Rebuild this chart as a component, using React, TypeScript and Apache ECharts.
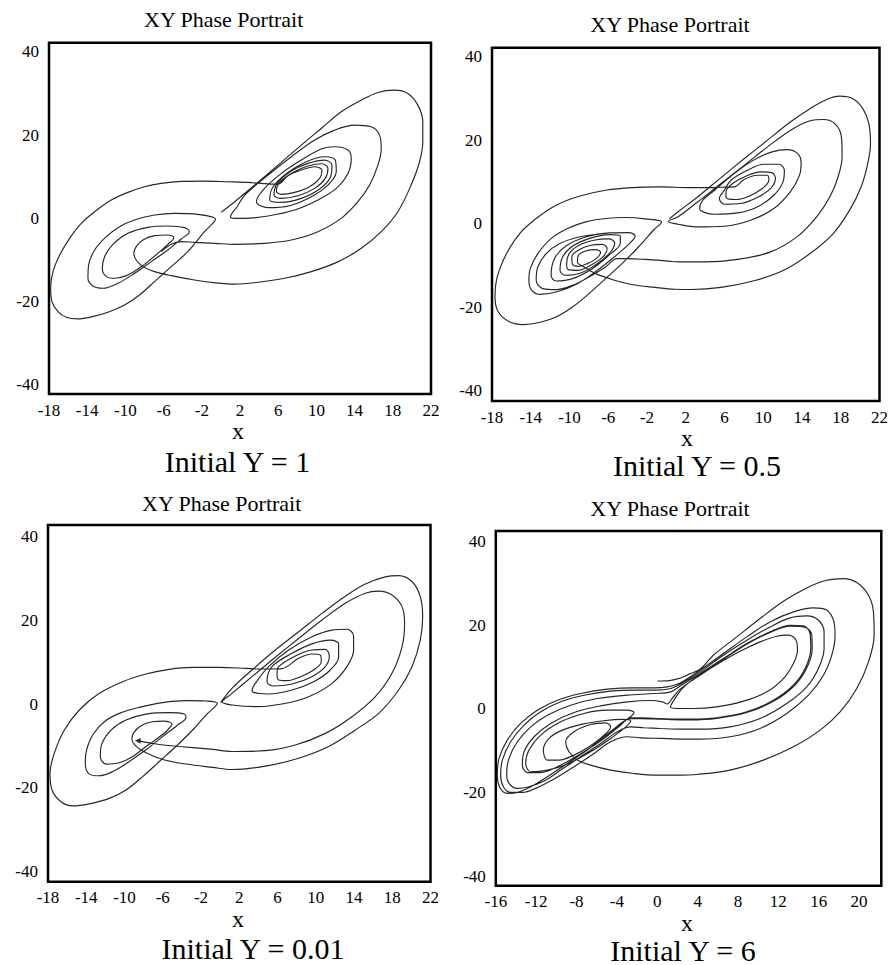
import React, { useEffect, useRef } from 'react';
import * as echarts from 'echarts';

// ---------- tick labels & texts ----------
const xTicksWide = [-18, -14, -10, -6, -2, 2, 6, 10, 14, 18, 22];
const xTicksShift = [-16, -12, -8, -4, 0, 4, 8, 12, 16, 20];
const yTicks = [-40, -20, 0, 20, 40];
const panelTitle = 'XY Phase Portrait';
const axisName = 'x';
const captions = ['Initial Y = 1', 'Initial Y = 0.5', 'Initial Y = 0.01', 'Initial Y = 6'];

// ---------- traced trajectories (x, y) ----------
const trajY1: number[][] = [
  [0.02,1.44],[1.45,4.0],[3.54,8.0],[5.98,12.8],[8.42,17.6],[10.51,21.6],[12.6,25.6],[14.7,28.4],[16.44,30.24],[18.18,30.8],[19.57,30.0],[20.62,27.2],[21.14,23.2],[21.14,18.4],[20.8,13.6],[19.92,8.0],[18.53,1.6],[16.79,-3.2],[14.7,-7.2],[12.3,-10.4],[9.47,-12.8],[6.68,-14.4],[3.89,-15.36],[1.45,-15.8],[-0.5,-15.5],[-2.77,-14.8],[-5.21,-13.76],[-6.95,-12.8],[-8.17,-11.6],[-8.87,-10.0],[-9.11,-8.4],[-8.87,-6.8],[-8.17,-5.2],[-6.95,-4.16],[-5.56,-4.0],[-4.93,-4.64],
  [-5.56,-6.24],[-6.6,-8.4],[-7.65,-10.4],[-8.69,-12.16],[-9.91,-13.76],[-11.13,-14.4],[-12.0,-14.0],[-12.42,-12.0],[-12.18,-9.2],[-11.31,-6.24],[-9.74,-3.6],[-7.65,-2.16],[-5.56,-1.84],[-3.81,-2.24],[-3.29,-3.2],[-4.16,-4.96],[-5.56,-7.6],[-7.3,-10.4],[-9.04,-13.2],[-10.79,-15.6],[-12.35,-16.8],[-13.4,-16.24],[-13.92,-14.4],[-13.85,-11.2],[-13.22,-7.6],[-12.0,-4.4],[-10.61,-2.0],[-9.04,-0.4],[-6.95,0.8],[-4.86,1.2],[-2.42,0.96],[-0.57,-0.24],
  [-1.72,-3.2],[-3.47,-8.0],[-5.21,-11.6],[-6.95,-15.2],[-8.52,-18.4],[-10.09,-20.8],[-11.83,-22.56],[-13.57,-23.68],[-14.97,-24.16],[-16.19,-23.76],[-17.06,-22.4],[-17.69,-20.0],[-17.83,-16.8],[-17.58,-12.8],[-16.88,-8.8],[-15.84,-4.8],[-14.62,-1.2],[-13.22,1.6],[-11.48,4.4],[-9.74,6.24],[-8.0,7.6],[-6.25,8.4],[-4.16,8.88],[-1.72,8.96],[0.72,8.8],[2.81,8.64],[4.2,8.4],[5.28,8.24],[5.98,8.24],
  [7.03,10.24],[8.42,11.6],[9.82,12.4],[10.58,11.6],[10.34,9.6],[9.29,7.6],[7.72,6.24],[6.33,5.76],[5.81,6.56],[6.16,8.64],[7.55,11.04],[9.12,12.56],[10.58,13.12],[11.21,12.0],[10.93,9.6],[9.82,7.2],[8.07,5.44],[6.33,4.8],[5.56,5.6],[5.91,8.4],[7.38,11.36],[9.12,13.2],[10.86,14.0],[11.63,12.8],[11.49,10.0],[10.34,7.04],[8.42,4.8],[6.33,3.84],[5.11,4.4],[5.46,7.6],[7.03,11.04],[8.94,13.6],[10.86,14.8],[11.98,14.0],[12.08,11.2],[11.21,8.0],[9.47,5.2],[7.2,3.04],[4.94,2.56],[3.72,4.0],[4.41,6.8],[6.33,10.8],[8.42,14.0],[10.51,16.64],[11.91,17.2],[13.3,16.4],[13.65,14.4],[13.3,10.8],[12.08,7.2],[10.16,4.4],[7.72,2.0],[4.94,0.56],[2.5,0.0],[1.45,0.0],[1.0,0.4],
  [1.7,2.8],[2.5,5.6],[4.94,10.4],[7.38,14.8],[9.82,18.8],[11.91,21.2],[14.0,22.4],[15.74,22.0],[16.61,20.0],[16.79,16.8],[16.44,12.8],[15.57,8.0],[14.35,4.0],[12.6,0.0],[10.16,-3.2],[7.38,-5.2],[4.59,-6.0],[1.45,-6.24],[-0.68,-6.0],[-2.77,-5.76],[-4.16,-5.6],[-5.21,-6.24],[-6.25,-8.0]
];

const trajY05: number[][] = [
  [0.3,1.2],[1.21,2.9],[3.25,6.5],[5.64,11.1],[8.02,15.6],[10.41,20.0],[12.79,24.4],[14.83,27.6],[16.54,29.8],[17.9,30.6],[19.26,30.0],[20.28,27.6],[20.9,24.0],[21.07,19.2],[20.79,14.5],[20.11,8.9],[18.92,3.3],[17.22,-2.3],[14.83,-7.1],[12.11,-11.1],[9.04,-13.6],[5.64,-15.2],[2.57,-15.7],[0.87,-15.65],[-1.17,-15.2],[-3.56,-14.5],[-5.6,-13.3],[-7.3,-11.9],[-8.5,-10.3],
  [-9.18,-9.11],[-9.08,-7.51],[-8.33,-6.48],[-7.31,-6.16],[-6.79,-6.8],[-7.24,-8.31],[-8.16,-9.51],[-9.08,-10.15],[-9.69,-9.67],
  [-9.76,-7.91],[-9.01,-6.16],[-7.82,-5.12],[-6.62,-4.88],[-6.11,-5.9],[-6.56,-7.91],[-7.82,-9.91],[-9.18,-11.11],[-10.1,-10.95],[-10.3,-9.51],
  [-10.03,-7.12],[-9.01,-5.12],[-7.48,-3.92],[-5.94,-3.59],[-5.33,-4.56],[-5.77,-6.72],[-7.13,-9.51],[-8.84,-11.75],[-10.44,-12.3],[-10.98,-11.11],
  [-10.71,-7.91],[-9.69,-5.36],[-7.99,-3.51],[-5.94,-2.55],[-4.75,-2.87],[-4.75,-4.56],[-5.94,-7.51],[-7.65,-10.71],[-9.69,-13.1],[-11.39,-13.66],[-11.9,-12.3],
  [-11.56,-8.31],[-10.37,-5.28],[-8.33,-3.12],[-5.94,-2.15],[-3.9,-2.07],[-3.22,-2.87],[-3.9,-4.88],[-5.26,-7.67],[-7.13,-11.11],[-9.18,-14.3],[-11.39,-16.3],[-13.1,-16.85],
  [-13.95,-15.74],[-14.19,-13.5],[-14.05,-10.71],[-13.27,-7.12],[-11.9,-3.51],[-10.2,-1.11],[-8.33,0.49],[-6.28,1.29],[-4.24,1.53],[-2.2,1.21],[-0.49,0.49],
  [-1.34,-1.51],[-2.88,-5.52],[-4.58,-9.51],[-6.28,-13.1],[-7.99,-16.7],[-9.69,-19.9],[-11.39,-22.3],[-13.1,-23.6],[-14.8,-24.1],[-16.16,-23.5],[-17.35,-21.1],[-17.69,-17.5],[-17.46,-12.7],[-16.5,-7.1],[-15.14,-2.3],[-13.44,1.29],[-11.39,4.48],[-9.01,6.63],[-6.28,8.07],[-3.56,8.71],[-0.49,8.87],[2.23,8.71],[3.93,8.71],[5.64,8.79],[7.0,8.87],
  [8.02,10.63],[9.38,11.66],[10.41,11.66],[10.58,10.47],[9.9,8.47],[8.53,6.63],[7.17,5.84],[6.15,6.31],[6.15,7.67],
  [6.83,9.67],[8.19,11.43],[9.72,12.46],[10.92,12.22],[11.26,10.87],[10.75,8.47],[9.38,6.32],[7.68,4.88],[5.98,4.72],[5.47,6.08],[5.98,8.07],
  [6.66,10.47],[8.36,12.86],[10.07,14.3],[11.6,14.3],[12.18,12.86],[12.04,10.07],[11.09,6.87],[9.38,4.08],[7.34,2.64],[4.96,2.32],[3.42,3.67],[3.76,5.68],[4.96,8.07],
  [6.66,11.43],[8.87,15.1],[10.92,17.25],[12.45,17.81],[13.47,17.01],[13.91,14.85],[13.74,11.66],[12.79,7.67],[11.09,3.68],[8.7,0.89],[5.98,-0.55],[3.25,-0.71],[1.21,-0.07],[0.2,0.6],
  [1.21,1.7],[3.25,5.3],[5.64,9.7],[8.02,14.0],[10.41,18.4],[12.79,22.4],[14.83,24.7],[16.2,25.0],[17.39,24.0],[18.07,20.8],[18.14,16.1],[17.73,11.3],[16.88,6.5],[15.51,1.7],[13.47,-3.1],[10.75,-6.7],[7.34,-8.5],[3.93,-9.1],[1.21,-9.1],[0.19,-8.9],[-2.2,-8.5],[-4.24,-8.3],[-5.09,-8.3],
  [-6.28,-10.31],[-7.99,-12.7],[-9.69,-14.7],[-11.39,-15.74],[-12.75,-15.5],[-13.44,-13.5],[-13.27,-10.31],[-12.41,-7.12],[-11.05,-4.72],[-9.01,-3.12],[-6.96,-2.47]
];

const trajY001: number[][] = [
  [0.05,0.4],[1.24,3.79],[3.33,8.17],[5.77,12.94],[8.21,17.3],[10.65,21.7],[13.09,25.8],[15.18,28.7],[17.27,30.4],[18.67,30.7],[20.06,29.3],[20.93,25.7],[21.18,20.9],[20.93,15.3],[20.06,8.96],[18.67,3.39],[16.58,-2.2],[14.14,-6.16],[11.35,-10.1],[8.21,-12.9],[4.73,-14.8],[1.24,-15.6],[-0.78,-15.1],[-3.57,-14.3],[-6.01,-13.2],[-7.75,-11.6],[-8.8,-10.0],[-9.22,-8.4],
  [-9.08,-6.97],[-8.28,-5.14],[-7.06,-4.19],[-5.84,-4.03],[-5.03,-4.74],[-5.49,-6.16],[-6.53,-8.15],[-7.75,-10.1],[-9.15,-12.5],[-10.54,-14.0],[-11.94,-14.3],[-12.53,-12.5],[-12.35,-9.36],[-11.41,-6.18],[-9.84,-3.79],[-7.75,-2.36],[-5.31,-2.03],[-3.74,-2.36],[-3.57,-3.15],[-4.44,-4.98],[-6.01,-7.75],[-7.75,-10.9],[-9.5,-13.7],[-11.24,-16.1],[-12.63,-17.1],[-13.68,-16.7],[-14.1,-14.1],[-13.96,-10.9],[-13.33,-7.37],[-12.11,-4.19],[-10.54,-2.2],[-8.45,-0.76],[-6.01,0.37],[-3.57,0.84],[-1.48,0.76],[-0.3,0.2],
  [-1.48,-2.59],[-2.87,-6.17],[-4.62,-10.1],[-6.36,-13.7],[-8.1,-17.3],[-9.84,-20.5],[-11.59,-22.5],[-13.68,-23.8],[-15.42,-24.3],[-16.64,-23.3],[-17.58,-20.5],[-17.79,-16.5],[-17.34,-11.7],[-16.29,-6.17],[-14.72,-1.39],[-12.63,2.59],[-10.19,5.38],[-7.75,7.21],[-5.31,8.33],[-2.87,8.8],[-0.08,8.8],[2.7,8.57],[4.03,8.41],[5.42,8.41],[6.47,8.49],
  [8.21,10.95],[9.6,11.98],[10.48,11.74],[10.58,10.15],[9.78,8.17],[8.39,6.57],[6.99,5.62],[6.12,5.78],[5.95,7.21],
  [6.12,8.96],[7.86,11.5],[9.6,12.94],[11.0,13.1],[11.42,11.5],[11.0,8.96],[9.6,6.57],[7.51,4.82],[5.6,4.34],[4.9,5.37],
  [5.42,8.96],[7.51,12.14],[9.6,14.4],[11.52,15.3],[12.39,14.4],[12.39,11.3],[11.52,8.17],[9.78,5.38],[7.51,3.39],[5.07,2.44],[3.33,3.23],[3.68,4.98],
  [5.07,8.96],[7.17,12.94],[9.6,16.1],[11.7,17.7],[13.26,17.9],[13.96,16.3],[13.96,12.94],[13.26,8.96],[11.7,4.98],[9.26,1.79],[6.47,0.05],[3.68,-0.59],[1.24,-0.19],[0.2,0.5],
  [1.24,2.57],[3.33,6.57],[5.77,11.2],[8.21,15.7],[10.65,20.1],[13.09,24.1],[15.18,26.5],[16.58,27.0],[17.97,26.1],[19.02,23.3],[19.29,19.3],[19.02,13.7],[17.97,7.37],[16.23,1.79],[13.79,-2.99],[11.0,-6.97],[7.86,-9.76],[4.73,-11.1],[1.24,-11.3],[-0.78,-10.8],[-4.27,-10.1],[-6.71,-9.52],[-8.62,-8.71]
];

const trajY6: number[][] = [
  [0.01,6.7],[1.2,6.8],[2.3,7.4],[3.2,8.4],
  [4.24,9.52],[5.56,12.87],[7.88,17.26],[10.19,21.64],[12.5,25.79],[14.81,28.98],[16.8,30.81],[18.45,31.21],[19.77,30.26],[20.93,27.22],[21.42,23.24],[21.49,17.66],[20.93,11.28],[19.77,4.9],[18.12,-0.69],[16.14,-5.06],[13.49,-9.06],[10.52,-12.25],[7.22,-14.64],[3.91,-15.68],[2.26,-15.84],[0.01,-15.84],[-2.3,-15.44],[-4.62,-14.63],[-6.6,-13.43],[-7.92,-12.23],[-8.75,-10.24],
  [-9.08,-7.85],[-8.25,-5.45],[-6.6,-3.72],[-5.11,-3.32],[-4.62,-4.27],[-5.44,-6.65],[-6.76,-9.04],[-8.25,-11.04],[-9.74,-12.23],[-10.89,-12.23],
  [-11.29,-9.84],[-10.73,-7.05],[-9.41,-5.06],[-7.42,-3.62],[-5.28,-2.82],[-3.46,-2.5],[-2.63,-2.9],[-3.12,-4.27],[-4.62,-7.05],[-6.6,-10.24],[-8.75,-13.03],[-10.89,-14.63],[-12.54,-15.03],
  [-13.04,-13.03],[-12.71,-9.84],[-11.55,-6.25],[-9.57,-3.08],[-7.26,-1.08],[-4.94,-0.29],[-2.96,-0.29],[-2.3,-0.84],
  [-3.63,-3.46],[-5.28,-6.65],[-6.93,-9.84],[-8.91,-13.03],[-10.89,-16.22],[-12.54,-18.61],[-13.86,-19.97],[-14.86,-20.21],[-15.58,-18.86],[-15.85,-15.82],[-15.68,-11.83],[-14.86,-7.45],[-13.54,-3.46],[-11.88,-0.29],[-9.9,2.1],[-7.59,3.7],[-4.94,4.74],[-2.3,5.06],[-0.32,5.06],[1.0,5.3],
  [2.26,6.2],[4.24,9.28],[6.55,13.27],[8.87,17.26],[11.18,20.84],[13.49,23.24],[15.47,24.19],[16.8,23.64],[17.46,21.24],[17.62,17.66],[17.29,12.87],[16.47,8.09],[14.98,3.3],[12.83,-1.07],[10.19,-4.66],[7.22,-6.65],[4.24,-7.2],[2.26,-7.2],[0.34,-7.05],[-1.64,-6.9],[-2.96,-6.65],
  [-4.62,-7.85],[-6.27,-10.64],[-8.25,-13.83],[-10.23,-16.78],[-12.05,-19.01],[-13.37,-19.97],[-14.53,-19.97],[-15.25,-18.61],[-15.52,-15.82],[-15.35,-12.23],[-14.53,-7.85],[-13.2,-3.88],[-11.55,-0.69],[-9.57,1.71],[-7.26,3.3],[-4.62,4.26],[-1.97,4.5],[0.01,4.5],[1.34,4.9],
  [2.26,5.9],[4.24,8.88],[6.55,12.87],[8.87,16.46],[11.18,19.63],[13.16,21.8],[14.81,22.28],[15.97,21.24],[16.53,18.45],[16.53,14.47],[15.97,9.68],[14.81,5.3],[12.83,1.31],[10.19,-2.28],[7.22,-4.27],[4.24,-4.82],[2.26,-4.82],[0.34,-4.67],[-1.31,-4.5],[-2.63,-4.3],
  [-3.95,-5.45],[-5.61,-8.25],[-7.59,-11.44],[-9.57,-14.63],[-11.22,-17.26],[-12.71,-18.61],[-13.86,-19.01],[-14.69,-17.82],[-14.92,-15.42],[-14.69,-11.83],[-13.86,-7.85],[-12.54,-4.27],[-10.89,-1.48],[-8.58,0.91],[-5.94,2.5],[-2.96,3.3],[-0.32,3.7],[1.34,4.1],
  [2.26,5.5],[4.24,8.48],[6.55,12.07],[8.87,15.66],[11.18,18.45],[13.16,20.05],[14.48,19.89],[15.14,18.05],[15.21,14.47],[14.65,9.68],[13.49,5.69],[11.51,2.11],[8.87,-0.69],[5.9,-2.1],[3.25,-2.44],[2.26,-2.44],[0.34,-2.3],[-1.64,-2.1],[-2.63,-2.1],
  [-3.63,-3.88],[-5.28,-7.05],[-7.26,-10.24],[-9.57,-13.43],[-11.55,-15.22],[-12.87,-15.22],[-13.37,-13.43],[-13.2,-10.24],[-12.21,-6.65],[-10.56,-3.46],[-8.25,-0.84],[-5.61,0.75],[-2.96,1.71],[-0.65,2.03],[0.5,1.7],[1.0,1.2],
  [1.5,2.6],[2.26,4.74],[4.24,8.09],[6.22,11.1],[8.2,13.8],[10.19,16.06],[11.84,17.42],[13.0,17.66],[13.76,16.46],[13.89,14.07],[13.49,10.88],[12.5,7.29],[10.85,4.1],[8.54,1.87],[5.9,0.51],[3.58,0.11],[2.26,0.11],[1.3,0.4],
  [1.7,2.3],[2.6,5.2],[4.24,8.3],[6.55,11.9],[8.87,15.5],[11.18,18.3],[13.16,19.8],[14.6,19.6],[15.3,17.8],[15.35,14.3],[14.75,9.5],[13.55,5.5],[11.55,1.9],[8.87,-0.85],[5.9,-2.25],[3.25,-2.6],[2.26,-2.6],[0.34,-2.45],[-1.64,-2.3],[-2.8,-2.3],[-3.6,-3.6],[-5.2,-6.6]
];

// ---------- layout (pixels) ----------
const SERIF = 'Liberation Serif';

const panels = [
  { grid: { left: 49, top: 42.7, width: 382, height: 351.3 }, xMin: -18, xMax: 22, yMin: -42.2, yMax: 42.2, xTicks: xTicksWide, data: trajY1, title: [223.7, 19], xName: [238, 431], caption: [237.5, 461] },
  { grid: { left: 492, top: 47.7, width: 391.5, height: 353.3 }, xMin: -18, xMax: 22, yMin: -42.4, yMax: 42.2, xTicks: xTicksWide, data: trajY05, title: [670, 24.5], xName: [687, 438], caption: [697, 465] },
  { grid: { left: 48, top: 525, width: 382.5, height: 356.7 }, xMin: -18, xMax: 22, yMin: -42.4, yMax: 42.8, xTicks: xTicksWide, data: trajY001, title: [221.7, 503], xName: [238, 919], caption: [253, 948] },
  { grid: { left: 495.8, top: 531, width: 385.5, height: 354.7 }, xMin: -16, xMax: 22.2, yMin: -42.3, yMax: 42.6, xTicks: xTicksShift, data: trajY6, title: [670, 508], xName: [687, 923], caption: [683, 950] }
];

function textEl(x: number, y: number, text: string, size: number, lineHeight: number) {
  return {
    type: 'text',
    x,
    y,
    silent: true,
    style: {
      text,
      fontFamily: SERIF,
      fontSize: size,
      lineHeight,
      fill: '#000',
      textAlign: 'center',
      textVerticalAlign: 'middle',
      align: 'center',
      verticalAlign: 'middle'
    }
  };
}

export default function App() {
  const ref = useRef<HTMLDivElement>(null);

  useEffect(() => {
    if (!ref.current) return;
    const chart = echarts.init(ref.current, undefined, { renderer: 'svg' });

    const labelStyle = { fontFamily: SERIF, fontSize: 17, color: '#000' };

    const series: any[] = panels.map((p, i) => ({
      type: 'line',
      xAxisIndex: i,
      yAxisIndex: i,
      data: p.data,
      showSymbol: false,
      symbol: 'none',
      smooth: 0.35,
      silent: true,
      lineStyle: { color: '#262626', width: 1.15 },
      z: 3
    }));
    const endY001 = trajY001[trajY001.length - 1];
    series.push({
      type: 'scatter',
      xAxisIndex: 2,
      yAxisIndex: 2,
      data: [endY001],
      symbol: 'triangle',
      symbolRotate: 90,
      symbolSize: 6,
      silent: true,
      itemStyle: { color: '#111' },
      z: 4
    });

    const graphics: any[] = [];
    panels.forEach((p, i) => {
      graphics.push(textEl(p.title[0], p.title[1], panelTitle, 22, 22));
      graphics.push(textEl(p.xName[0], p.xName[1], axisName, 24, 20));
      graphics.push(textEl(p.caption[0], p.caption[1], captions[i], 30, 24));
    });

    chart.setOption({
      animation: false,
      backgroundColor: '#fff',
      grid: panels.map((p) => ({
        ...p.grid,
        show: true,
        borderColor: '#000',
        borderWidth: 2.5,
        backgroundColor: 'transparent',
        containLabel: false
      })),
      xAxis: panels.map((p, i) => ({
        type: 'value',
        gridIndex: i,
        min: p.xMin,
        max: p.xMax,
        axisLine: { show: false },
        axisTick: { show: false },
        splitLine: { show: false },
        axisLabel: { ...labelStyle, margin: 8, lineHeight: 16, customValues: p.xTicks, hideOverlap: false }
      })),
      yAxis: panels.map((p, i) => ({
        type: 'value',
        gridIndex: i,
        min: p.yMin,
        max: p.yMax,
        axisLine: { show: false },
        axisTick: { show: false },
        splitLine: { show: false },
        axisLabel: { ...labelStyle, margin: 10, customValues: yTicks, hideOverlap: false }
      })),
      series,
      graphic: graphics
    });

    return () => {
      chart.dispose();
    };
  }, []);

  return (
    <div
      ref={ref}
      style={{ position: 'absolute', left: 0, top: 0, width: 891, height: 965, background: '#fff' }}
    />
  );
}
